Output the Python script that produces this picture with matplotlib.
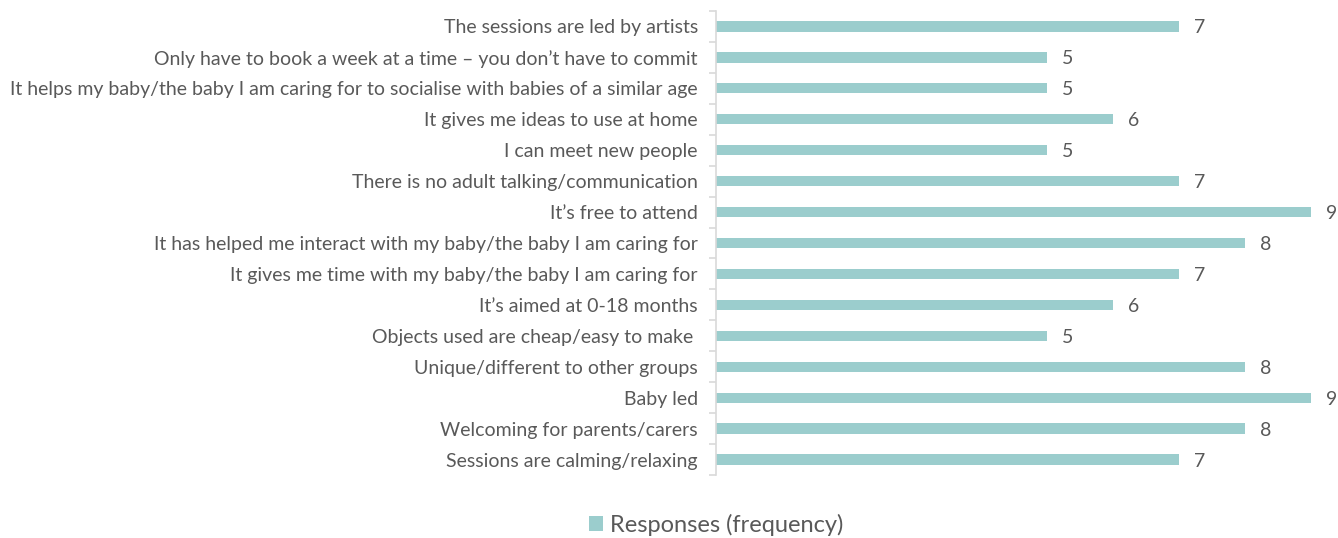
import matplotlib
matplotlib.use("Agg")
import matplotlib.pyplot as plt
import numpy as np

categories = [
    "The sessions are led by artists",
    "Only have to book a week at a time \u2013 you don\u2019t have to commit",
    "It helps my baby/the baby I am caring for to socialise with babies of a similar age",
    "It gives me ideas to use at home",
    "I can meet new people",
    "There is no adult talking/communication",
    "It\u2019s free to attend",
    "It has helped me interact with my baby/the baby I am caring for",
    "It gives me time with my baby/the baby I am caring for",
    "It\u2019s aimed at 0-18 months",
    "Objects used are cheap/easy to make ",
    "Unique/different to other groups",
    "Baby led",
    "Welcoming for parents/carers",
    "Sessions are calming/relaxing",
]
values = [7, 5, 5, 6, 5, 7, 9, 8, 7, 6, 5, 8, 9, 8, 7]
series_name = "Responses (frequency)"

plt.rcParams['font.family'] = ['Lato', 'DejaVu Sans']
text_color = '#595959'
bar_color = '#9BCDCD'
axis_color = '#D9D9D9'

fig = plt.figure(figsize=(13.38, 5.38), dpi=100)
ax = fig.add_axes([716/1338, 1-475/538, (1311-716)/1338, 464/538])

n = len(categories)
y = np.arange(n)[::-1]
bars = ax.barh(y, values, height=0.33, color=bar_color, label=series_name)
ax.set_xlim(0, 9)
ax.set_ylim(-0.5, n - 0.5)
ax.set_yticks(y)
ax.set_yticklabels(categories, fontsize=14, color=text_color)
ax.tick_params(axis='y', which='major', length=0, pad=13)
ax.set_yticks(np.arange(-0.5, n, 1), minor=True)
ax.tick_params(axis='y', which='minor', length=5, color=axis_color, width=1.2)
ax.set_xticks([])
for s in ['top', 'right', 'bottom']:
    ax.spines[s].set_visible(False)
ax.spines['left'].set_color(axis_color)
ax.spines['left'].set_linewidth(1.2)

for yi, v in zip(y, values):
    ax.annotate(str(v), (v, yi), xytext=(11, 0), textcoords='offset points',
                va='center_baseline', ha='left', fontsize=14, color=text_color,
                annotation_clip=False)

leg = fig.legend(handles=[bars], labels=[series_name], loc='center',
                 bbox_to_anchor=(716/1338, 1-525/538), frameon=False,
                 fontsize=17, handlelength=0.6, handleheight=0.6,
                 handletextpad=0.3, labelcolor=text_color)

fig.savefig("out.png", dpi=100)
